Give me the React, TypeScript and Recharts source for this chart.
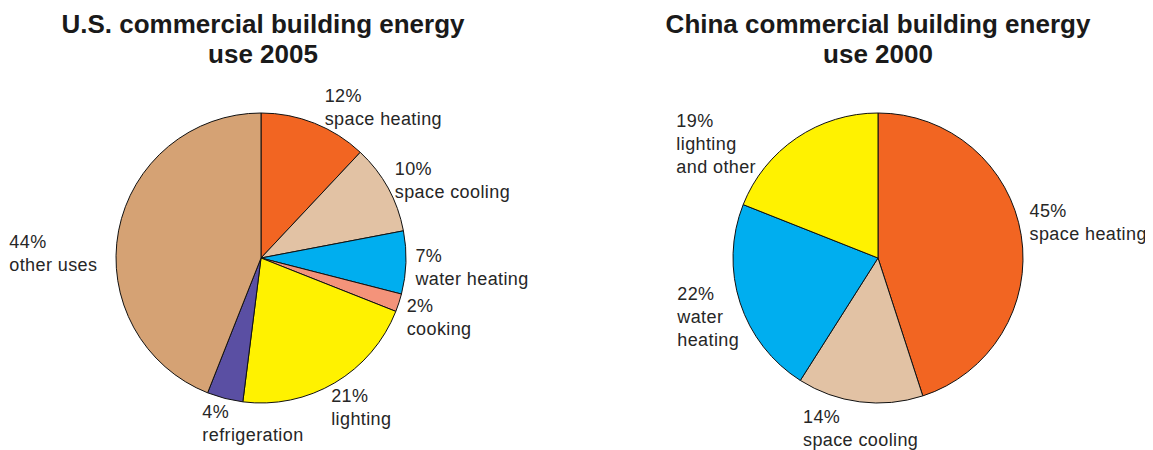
import { Cell, Pie, PieChart } from "recharts";

const usCategories = ["space heating", "space cooling", "water heating", "cooking", "lighting", "refrigeration", "other uses"];
const usShares = [12, 10, 7, 2, 21, 4, 44];
const usColors = ["#F26522", "#E2C2A4", "#00AEEF", "#F4937A", "#FFF200", "#5A4FA3", "#D5A274"];

const chinaCategories = ["space heating", "space cooling", "water\nheating", "lighting\nand other"];
const chinaShares = [45, 14, 22, 19];
const chinaColors = ["#F26522", "#E2C2A4", "#00AEEF", "#FFF200"];

const titles = [
  ["U.S. commercial building energy", "use 2005"],
  ["China commercial building energy", "use 2000"],
];

// label nudges (left edge / first baseline) relative to the 1.1r anchor on each slice
const US_LABEL_NUDGE = [
  [5, -8], [-6, -6], [-5, -1], [-6, 5], [-11, 7], [-19, 6], [-95, 20],
];
const CHINA_LABEL_NUDGE = [[-6, -16], [-55, 7], [-49, -7], [-112, 1]];

const W = 1145;
const H = 442;
const R = 145;
const RAD = Math.PI / 180;
const LABEL_FONT = { fontFamily: "'Liberation Sans', Arial, sans-serif", fontSize: 18, letterSpacing: 0.4 };

function makeLabel(nudge: number[][]) {
  return (props: any) => {
    const { cx, cy, midAngle, outerRadius, index, payload } = props;
    const r = outerRadius * 1.1;
    const ax = cx + r * Math.cos(-midAngle * RAD);
    const ay = cy + r * Math.sin(-midAngle * RAD);
    const [dx, dy] = nudge[index] || [0, 0];
    const lines = [`${payload.value}%`, ...String(payload.name).split("\n")];
    return (
      <text x={ax + dx} y={ay + dy} fill="#262626" textAnchor="start" style={LABEL_FONT}>
        {lines.map((l, i) => (
          <tspan key={i} x={ax + dx} dy={i === 0 ? 0 : 23}>
            {l}
          </tspan>
        ))}
      </text>
    );
  };
}

export default function App() {
  const usData = usCategories.map((name, i) => ({ name, value: usShares[i] }));
  const chinaData = chinaCategories.map((name, i) => ({ name, value: chinaShares[i] }));
  return (
    <div style={{ position: "relative", width: W, height: H, background: "#fff" }}>
      <PieChart width={W} height={H} margin={{ top: 0, right: 0, bottom: 0, left: 0 }}>
        <Pie
          data={usData}
          dataKey="value"
          nameKey="name"
          cx={253}
          cy={250}
          outerRadius={R}
          startAngle={90}
          endAngle={-270}
          stroke="#111"
          strokeWidth={1}
          label={makeLabel(US_LABEL_NUDGE)}
          labelLine={false}
          isAnimationActive={false}
        >
          {usData.map((_, i) => (
            <Cell key={i} fill={usColors[i]} />
          ))}
        </Pie>
        <Pie
          data={chinaData}
          dataKey="value"
          nameKey="name"
          cx={870}
          cy={250}
          outerRadius={R}
          startAngle={90}
          endAngle={-270}
          stroke="#111"
          strokeWidth={1}
          label={makeLabel(CHINA_LABEL_NUDGE)}
          labelLine={false}
          isAnimationActive={false}
        >
          {chinaData.map((_, i) => (
            <Cell key={i} fill={chinaColors[i]} />
          ))}
        </Pie>
      </PieChart>
      <svg width={W} height={80} style={{ position: "absolute", left: 0, top: 0, pointerEvents: "none" }}>
        {titles.map((t, k) => (
          <text
            key={k}
            x={k === 0 ? 255 : 870}
            y={25}
            textAnchor="middle"
            fill="#1a1a1a"
            style={{ fontFamily: "'Liberation Sans', Arial, sans-serif", fontSize: 26, fontWeight: 700 }}
          >
            {t.map((line, i) => (
              <tspan key={i} x={k === 0 ? 255 : 870} dy={i === 0 ? 0 : 30}>
                {line}
              </tspan>
            ))}
          </text>
        ))}
      </svg>
    </div>
  );
}
